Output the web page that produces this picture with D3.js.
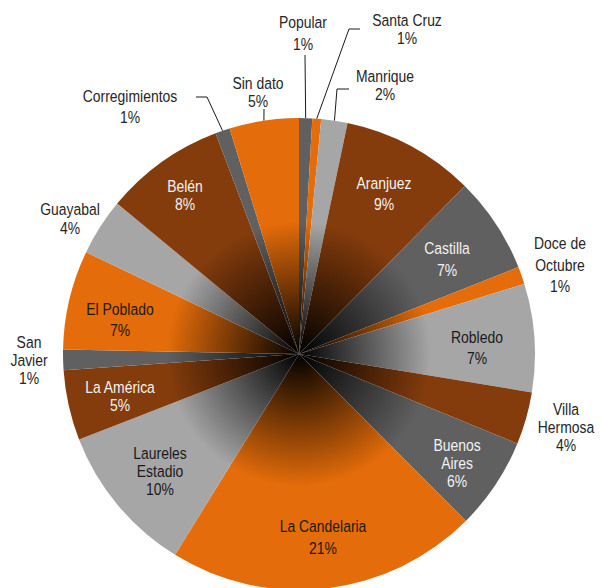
<!DOCTYPE html>
<html><head><meta charset="utf-8">
<script src="https://cdn.jsdelivr.net/npm/d3@7"></script>
<style>
html,body{margin:0;padding:0;background:#fff;}
text{font-family:"Liberation Sans",Arial,sans-serif;}
</style></head>
<body><svg id="c" width="601" height="588"></svg>
<script>
const categories = ["Popular","Santa Cruz","Manrique","Aranjuez","Castilla","Doce de Octubre","Robledo","Villa Hermosa","Buenos Aires","La Candelaria","Laureles Estadio","La América","San Javier","El Poblado","Guayabal","Belén","Corregimientos","Sin dato"];
const values = [0.9,0.6,1.8,9.1,6.6,1.2,7.4,3.6,6.3,21.3,10.3,4.8,1.4,6.8,3.9,8.25,1.0,4.75];
const percentLabels = ["1%","1%","2%","9%","7%","1%","7%","4%","6%","21%","10%","5%","1%","7%","4%","8%","1%","5%"];
const nameLines = [["Popular"],["Santa Cruz"],["Manrique"],["Aranjuez"],["Castilla"],["Doce de","Octubre"],["Robledo"],["Villa","Hermosa"],["Buenos","Aires"],["La Candelaria"],["Laureles","Estadio"],["La América"],["San","Javier"],["El Poblado"],["Guayabal"],["Belén"],["Corregimientos"],["Sin dato"]];

// layout (label positions: x, line centres y, text colour, optional leader elbow)
const palette = ["#606060","#E46C0A","#A6A6A6","#843C0C"];
const layout = {
  "Popular":        {x:303, ys:[22,44], fill:"#262626", leader:[[305,55]]},
  "Santa Cruz":     {x:407, ys:[20,38], fill:"#262626", leader:[[360,29],[349,29]]},
  "Manrique":       {x:385, ys:[76,94], fill:"#262626", leader:[[349,89],[337,89]]},
  "Aranjuez":       {x:384, ys:[183,204], fill:"#f2f2f2"},
  "Castilla":       {x:447, ys:[248,270], fill:"#f2f2f2"},
  "Doce de Octubre":{x:560, ys:[243,265,286], fill:"#262626"},
  "Robledo":        {x:477, ys:[337,358], fill:"#1a1a1a"},
  "Villa Hermosa":  {x:566, ys:[409,427,445], fill:"#262626"},
  "Buenos Aires":   {x:457, ys:[445,463,481], fill:"#f2f2f2"},
  "La Candelaria":  {x:323, ys:[526,548], fill:"#1a1a1a"},
  "Laureles Estadio":{x:160, ys:[453,471,489], fill:"#1a1a1a"},
  "La América":     {x:120, ys:[387,405], fill:"#f2f2f2"},
  "San Javier":     {x:29, ys:[342,360,378], fill:"#262626"},
  "El Poblado":     {x:120, ys:[309,330], fill:"#1a1a1a"},
  "Guayabal":       {x:70, ys:[209,228], fill:"#262626"},
  "Belén":          {x:185, ys:[186,204], fill:"#f2f2f2"},
  "Corregimientos": {x:130, ys:[96,117], fill:"#262626", leader:[[196,97],[207,97]]},
  "Sin dato":       {x:258, ys:[83,101], fill:"#262626", leader:[[264,109]]}
};

const cx = 299, cy = 354, R = 236;
const svg = d3.select("#c");
const defs = svg.append("defs");
palette.forEach((c,i)=>{
  const g = defs.append("radialGradient").attr("id","g"+i)
    .attr("gradientUnits","userSpaceOnUse").attr("cx",0).attr("cy",0).attr("r",R)
    .attr("fx",0).attr("fy",0);
  g.append("stop").attr("offset",0).attr("stop-color","#000");
  g.append("stop").attr("offset",0.56).attr("stop-color",c);
  g.append("stop").attr("offset",1).attr("stop-color",c);
});

const data = categories.map((c,i)=>({name:c, value:values[i], pct:percentLabels[i], lines:nameLines[i], idx:i}));
const pie = d3.pie().sort(null).value(d=>d.value);
const arcs = pie(data);
const arc = d3.arc().innerRadius(0).outerRadius(R);
const g = svg.append("g").attr("transform",`translate(${cx},${cy})`);
g.selectAll("path").data(arcs).join("path")
  .attr("d",arc)
  .attr("fill",d=>`url(#g${d.data.idx%4})`);

// leaders
const lineGen = d3.line();
arcs.forEach(a=>{
  const L = layout[a.data.name];
  if(!L.leader) return;
  const mid = (a.startAngle+a.endAngle)/2;
  const end = [cx + R*Math.sin(mid), cy - R*Math.cos(mid)];
  svg.append("path").attr("d", lineGen([...L.leader, end]))
    .attr("fill","none").attr("stroke","#1a1a1a").attr("stroke-width",1);
});

// labels (condensed look via horizontal scale)
arcs.forEach(a=>{
  const L = layout[a.data.name];
  const lines = [...a.data.lines, a.data.pct];
  const t = svg.append("text").attr("text-anchor","middle").attr("fill",L.fill)
    .attr("font-size","17px")
    .attr("transform",`translate(${L.x},0) scale(0.82,1)`);
  lines.forEach((s,i)=>{
    t.append("tspan").attr("x",0).attr("y",L.ys[i]).attr("dy","0.36em").text(s);
  });
});
</script></body></html>
